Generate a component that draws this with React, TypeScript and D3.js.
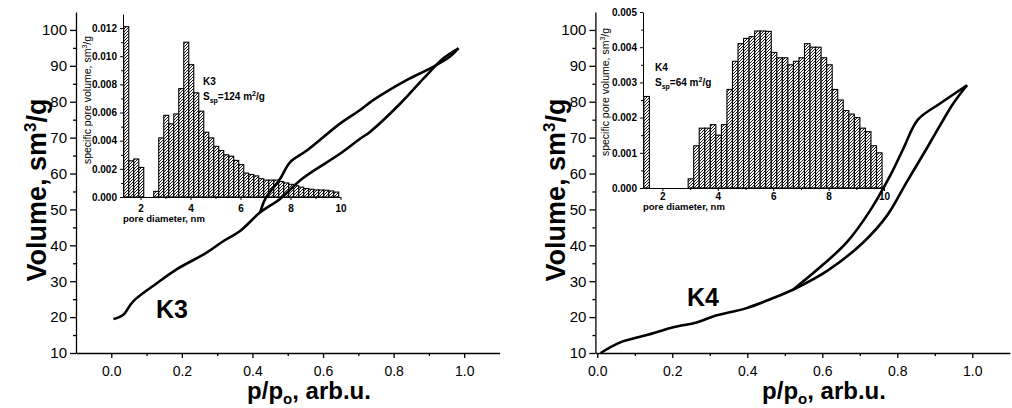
import * as d3 from 'd3';
import React, { useEffect, useRef } from 'react';

// ---- nitrogen isotherms: p/po and volume, sm3/g ----
// K3
const k3AdsP = [0.006, 0.034, 0.062, 0.133, 0.185, 0.27, 0.318, 0.365, 0.422, 0.478, 0.54, 0.648, 0.705, 0.733, 0.819, 0.885, 0.941, 0.984];
const k3AdsV = [19.45, 20.65, 24.4, 29.7, 33.3, 37.95, 41.2, 44.0, 49.2, 52.9, 58.5, 65.5, 69.7, 71.6, 79.5, 86.5, 92.1, 94.9];
const k3DesP = [0.422, 0.436, 0.478, 0.507, 0.554, 0.648, 0.705, 0.743, 0.838, 0.904, 0.96, 0.984];
const k3DesV = [49.2, 52.9, 58.5, 63.2, 66.4, 73.9, 77.7, 80.5, 86.1, 89.3, 92.6, 94.9];
// K4
const k4AdsP = [0.009, 0.06, 0.132, 0.203, 0.265, 0.309, 0.398, 0.469, 0.523, 0.612, 0.709, 0.772, 0.825, 0.878, 0.914, 0.946, 0.967, 0.986];
const k4AdsV = [10, 12.9, 15.0, 17.2, 18.5, 20.2, 22.5, 25.3, 27.7, 32.8, 40.8, 48.2, 57.6, 66.9, 73.4, 79.0, 82.1, 84.6];
const k4DesP = [0.523, 0.603, 0.665, 0.727, 0.781, 0.816, 0.855, 0.914, 0.986];
const k4DesV = [27.7, 34.7, 40.8, 49.6, 59.4, 66.9, 75.0, 79.5, 84.6];

// ---- pore size distributions: bin start (nm) and specific pore volume ----
const binWidth = 0.2;
const k3Bins = [1.33, 1.53, 1.73, 1.93, 2.53, 2.73, 2.93, 3.13, 3.33, 3.53, 3.73, 3.93, 4.13, 4.33, 4.53, 4.73, 4.93, 5.13, 5.33, 5.53, 5.73, 5.93, 6.13, 6.33, 6.53, 6.73, 6.93, 7.13, 7.33, 7.53, 7.73, 7.93, 8.13, 8.33, 8.53, 8.73, 8.93, 9.13, 9.33, 9.53, 9.73];
const k3Pore = [0.0121, 0.00257, 0.0027, 0.0021, 0.0004, 0.0042, 0.0058, 0.0052, 0.0059, 0.0077, 0.011, 0.0094, 0.0074, 0.0061, 0.0046, 0.0042, 0.0036, 0.0033, 0.003, 0.0029, 0.0026, 0.0023, 0.0017, 0.0016, 0.0015, 0.0013, 0.0012, 0.0012, 0.0012, 0.0011, 0.001, 0.0009, 0.0008, 0.0007, 0.0006, 0.00055, 0.0005, 0.0005, 0.00048, 0.00043, 0.00035];
const k4Bins = [1.33, 2.93, 3.13, 3.33, 3.53, 3.73, 3.93, 4.13, 4.33, 4.53, 4.73, 4.93, 5.13, 5.33, 5.53, 5.73, 5.93, 6.13, 6.33, 6.53, 6.73, 6.93, 7.13, 7.33, 7.53, 7.73, 7.93, 8.13, 8.33, 8.53, 8.73, 8.93, 9.13, 9.33, 9.53, 9.73];
const k4Pore = [0.0026, 0.00026, 0.0012, 0.0017, 0.0017, 0.0018, 0.0015, 0.0018, 0.0028, 0.0036, 0.0041, 0.00425, 0.0043, 0.00446, 0.00446, 0.00445, 0.00385, 0.0037, 0.0037, 0.0035, 0.0036, 0.0037, 0.0041, 0.004, 0.004, 0.0037, 0.0035, 0.0028, 0.0025, 0.0022, 0.0021, 0.002, 0.0017, 0.0016, 0.0012, 0.001];

// ---- ticks ----
const volTicks = [10, 20, 30, 40, 50, 60, 70, 80, 90, 100];
const volMinor = [15, 25, 35, 45, 55, 65, 75, 85, 95];
const pTicks = [0, 0.2, 0.4, 0.6, 0.8, 1.0];
const pMinor = [0.1, 0.3, 0.5, 0.7, 0.9];
const diamTicks = [2, 4, 6, 8, 10];
const diamMinor = [3, 5, 7, 9];
const k3PoreTicks = [0, 0.002, 0.004, 0.006, 0.008, 0.01, 0.012];
const k3PoreMinor = [0.001, 0.003, 0.005, 0.007, 0.009, 0.011];
const k4PoreTicks = [0, 0.001, 0.002, 0.003, 0.004, 0.005];
const k4PoreMinor = [0.0005, 0.0015, 0.0025, 0.0035, 0.0045];

const FONT = "'Liberation Sans', Arial, Helvetica, sans-serif";

function drawPanel(svg, p) {
  const x = d3.scaleLinear().domain(p.xDomain).range(p.xRange);
  const y = d3.scaleLinear().domain([10, 105]).range([353, 12]);

  // main y axis
  const gy = svg.append('g').attr('transform', `translate(${p.xRange[0]},0)`);
  gy.call(d3.axisLeft(y).tickValues(volTicks).tickSize(6).tickPadding(3).tickSizeOuter(0));
  gy.append('g').call(d3.axisLeft(y).tickValues(volMinor).tickSize(3).tickFormat(() => ''))
    .select('.domain').remove();
  gy.attr('font-family', FONT).attr('font-size', 15);
  gy.selectAll('line,path').attr('stroke-width', 1.3);

  // main x axis
  const gx = svg.append('g').attr('transform', 'translate(0,353)');
  gx.call(d3.axisBottom(x).tickValues(pTicks).tickFormat(d3.format('.1f')).tickSize(5).tickPadding(8).tickSizeOuter(0));
  gx.append('g').call(d3.axisBottom(x).tickValues(pMinor).tickSize(3).tickFormat(() => ''))
    .select('.domain').remove();
  gx.attr('font-family', FONT).attr('font-size', 14);
  gx.selectAll('line,path').attr('stroke-width', 1.3);

  // titles
  const yt = svg.append('text')
    .attr('transform', `translate(${p.yTitleX},190) rotate(-90)`)
    .attr('text-anchor', 'middle').attr('font-family', FONT).attr('font-weight', 'bold').attr('font-size', 27);
  yt.append('tspan').text('Volume, sm');
  yt.append('tspan').attr('font-size', 17).attr('dy', -10).text('3');
  yt.append('tspan').attr('dy', 10).text('/g');

  const xt = svg.append('text')
    .attr('x', p.xTitleX).attr('y', 399)
    .attr('text-anchor', 'middle').attr('font-family', FONT).attr('font-weight', 'bold').attr('font-size', 24);
  xt.append('tspan').text('p/p');
  xt.append('tspan').attr('font-size', 15).attr('dy', 5).text('o');
  xt.append('tspan').attr('dy', -5).text(', arb.u.');

  svg.append('text').attr('x', p.nameX).attr('y', p.nameY)
    .attr('font-family', FONT).attr('font-weight', 'bold').attr('font-size', 25).text(p.name);

  // inset histogram
  const ins = p.inset;
  const ix = d3.scaleLinear().domain([1.3, 10]).range(ins.xRange);
  const iy = d3.scaleLinear().domain(ins.yDomain).range(ins.yRange);

  svg.append('g').selectAll('rect').data(ins.bins)
    .join('rect')
    .attr('x', (d) => ix(d))
    .attr('width', (d) => ix(d + binWidth) - ix(d))
    .attr('y', (d, i) => iy(ins.values[i]))
    .attr('height', (d, i) => iy(0) - iy(ins.values[i]))
    .attr('fill', 'url(#hatch)')
    .attr('stroke', '#000')
    .attr('stroke-width', 1.1);

  const iga = svg.append('g').attr('transform', `translate(${ins.xRange[0]},0)`);
  iga.call(d3.axisLeft(iy).tickValues(ins.ticks).tickFormat(d3.format('.3f')).tickSize(3).tickPadding(3).tickSizeOuter(0));
  iga.append('g').call(d3.axisLeft(iy).tickValues(ins.minor).tickSize(2).tickFormat(() => ''))
    .select('.domain').remove();
  iga.attr('font-family', FONT).attr('font-size', 10).attr('font-weight', 'bold');

  const igx = svg.append('g').attr('transform', `translate(0,${ins.yRange[0]})`);
  igx.call(d3.axisBottom(ix).tickValues(diamTicks).tickSize(3).tickPadding(ins.xPad).tickSizeOuter(0));
  igx.append('g').call(d3.axisBottom(ix).tickValues(diamMinor).tickSize(2).tickFormat(() => ''))
    .select('.domain').remove();
  igx.attr('font-family', FONT).attr('font-size', 10).attr('font-weight', 'bold');

  const it = svg.append('text')
    .attr('transform', `translate(${ins.titleX},${ins.titleY}) rotate(-90)`)
    .attr('text-anchor', 'middle').attr('font-family', FONT).attr('font-size', 10.5);
  it.append('tspan').text('specific pore volume, sm');
  it.append('tspan').attr('font-size', 7).attr('dy', -4).text('3');
  it.append('tspan').attr('dy', 4).text('/g');

  svg.append('text').attr('x', ins.xRange[0]).attr('y', ins.xlabelY)
    .attr('font-family', FONT).attr('font-weight', 'bold').attr('font-size', 9.5).text('pore diameter, nm');

  svg.append('text').attr('x', ins.noteX).attr('y', ins.noteY)
    .attr('font-family', FONT).attr('font-weight', 'bold').attr('font-size', 10).text(p.name);
  const ss = svg.append('text').attr('x', ins.noteX).attr('y', ins.noteY + 15)
    .attr('font-family', FONT).attr('font-weight', 'bold').attr('font-size', 10);
  ss.append('tspan').text('S');
  ss.append('tspan').attr('font-size', 7).attr('dy', 3).text('sp');
  ss.append('tspan').attr('dy', -3).text(`=${ins.area} m`);
  ss.append('tspan').attr('font-size', 7).attr('dy', -4).text('2');
  ss.append('tspan').attr('dy', 4).text('/g');

  // isotherm curves on top
  const line = d3.line().x((d) => x(d[0])).y((d) => y(d[1])).curve(d3.curveCatmullRom.alpha(0.5));
  [p.ads, p.des].forEach((s) => {
    svg.append('path')
      .attr('d', line(s[0].map((v, i) => [v, s[1][i]])))
      .attr('fill', 'none').attr('stroke', '#000').attr('stroke-width', 2.6)
      .attr('stroke-linejoin', 'round');
  });
}

function IsothermCharts() {
  const myRef = useRef();

  useEffect(() => {
    const svg = d3.select(myRef.current);
    svg.selectAll('*').remove();

    // hatch fill for the histogram bars
    const pat = svg.append('defs').append('pattern')
      .attr('id', 'hatch').attr('patternUnits', 'userSpaceOnUse')
      .attr('width', 3).attr('height', 3);
    pat.append('rect').attr('width', 3).attr('height', 3).attr('fill', '#fff');
    pat.append('path').attr('d', 'M-1,1L1,-1M0,3L3,0M2,4L4,2')
      .attr('stroke', '#000').attr('stroke-width', 0.9);

    drawPanel(svg, {
      name: 'K3',
      xDomain: [-0.1, 1.1], xRange: [76, 499.5],
      yTitleX: 46, xTitleX: 309, nameX: 156, nameY: 318,
      ads: [k3AdsP, k3AdsV], des: [k3DesP, k3DesV],
      inset: {
        bins: k3Bins, values: k3Pore,
        xRange: [123, 340.5], yDomain: [0, 0.013], yRange: [197, 14],
        ticks: k3PoreTicks, minor: k3PoreMinor, xPad: 5,
        titleX: 91, titleY: 100, xlabelY: 222,
        noteX: 203, noteY: 85, area: '124',
      },
    });

    drawPanel(svg, {
      name: 'K4',
      xDomain: [-0.005, 1.1], xRange: [595.4, 1009.8],
      yTitleX: 565, xTitleX: 824, nameX: 687, nameY: 306,
      ads: [k4AdsP, k4AdsV], des: [k4DesP, k4DesV],
      inset: {
        bins: k4Bins, values: k4Pore,
        xRange: [643, 884], yDomain: [0, 0.005], yRange: [188, 12],
        ticks: k4PoreTicks, minor: k4PoreMinor, xPad: 2,
        titleX: 609, titleY: 92, xlabelY: 210,
        noteX: 655, noteY: 71, area: '64',
      },
    });
  }, []);

  return (
    <svg ref={myRef} width={1012} height={408}
      style={{ position: 'absolute', left: 0, top: 0, background: '#fff' }} />
  );
}

export default function App() {
  return <IsothermCharts />;
}
